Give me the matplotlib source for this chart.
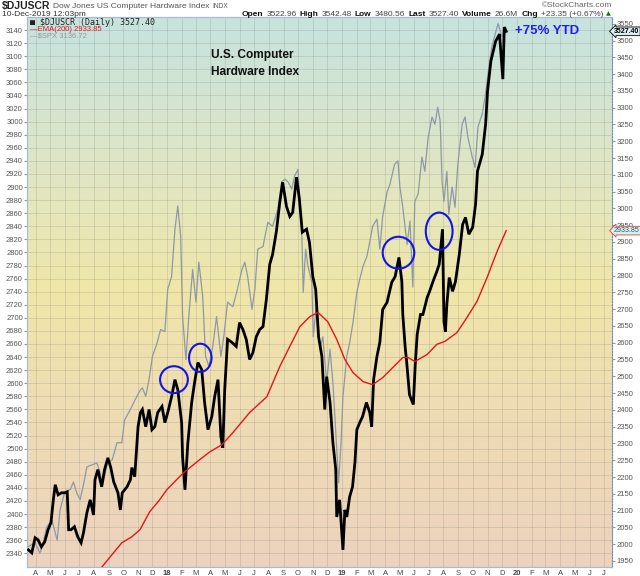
import matplotlib
matplotlib.use('Agg')
import matplotlib.pyplot as plt
import matplotlib.dates as mdates
from matplotlib.patches import Ellipse
from matplotlib.colors import LinearSegmentedColormap
from matplotlib.offsetbox import TextArea, HPacker, AnchoredOffsetbox
import numpy as np
import pandas as pd

plt.rcParams['font.family'] = ['Liberation Sans', 'DejaVu Sans']

# ---------------- data ----------------
djuscr_dates = [
    '2017-03-17', '2017-03-24', '2017-03-31', '2017-04-06', '2017-04-13', '2017-04-20', '2017-04-27',
    '2017-05-03', '2017-05-08', '2017-05-12', '2017-05-18', '2017-05-25', '2017-06-01', '2017-06-06',
    '2017-06-09', '2017-06-14', '2017-06-21', '2017-06-28', '2017-07-05', '2017-07-10', '2017-07-17',
    '2017-07-24', '2017-07-31', '2017-08-03', '2017-08-09', '2017-08-17', '2017-08-23', '2017-08-30',
    '2017-09-05', '2017-09-11', '2017-09-20', '2017-09-25', '2017-09-29', '2017-10-09', '2017-10-16',
    '2017-10-19', '2017-10-25', '2017-10-30', '2017-11-01', '2017-11-06', '2017-11-10', '2017-11-17',
    '2017-11-24', '2017-11-30', '2017-12-06', '2017-12-12', '2017-12-21', '2017-12-27', '2018-01-02',
    '2018-01-10', '2018-01-17', '2018-01-23', '2018-01-31', '2018-02-02', '2018-02-07', '2018-02-13',
    '2018-02-21', '2018-02-27', '2018-03-06', '2018-03-14', '2018-03-20', '2018-03-27', '2018-04-04',
    '2018-04-10', '2018-04-17', '2018-04-23', '2018-04-27', '2018-05-01', '2018-05-07', '2018-05-16',
    '2018-05-25', '2018-06-01', '2018-06-08', '2018-06-15', '2018-06-22', '2018-06-29', '2018-07-06',
    '2018-07-13', '2018-07-20', '2018-07-27', '2018-08-03', '2018-08-09', '2018-08-17', '2018-08-24',
    '2018-08-30', '2018-09-07', '2018-09-14', '2018-09-20', '2018-09-28', '2018-10-04', '2018-10-10',
    '2018-10-19', '2018-10-25', '2018-11-01', '2018-11-07', '2018-11-13', '2018-11-20', '2018-11-23',
    '2018-11-26', '2018-11-30', '2018-12-07', '2018-12-13', '2018-12-19', '2018-12-21', '2018-12-27',
    '2019-01-03', '2019-01-07', '2019-01-11', '2019-01-17', '2019-01-23', '2019-01-28', '2019-02-01',
    '2019-02-07', '2019-02-13', '2019-02-21', '2019-02-28', '2019-03-04', '2019-03-08', '2019-03-15',
    '2019-03-21', '2019-03-27', '2019-04-05', '2019-04-15', '2019-04-22', '2019-04-30', '2019-05-06',
    '2019-05-08', '2019-05-13', '2019-05-16', '2019-05-22', '2019-05-30', '2019-06-03', '2019-06-07',
    '2019-06-14', '2019-06-19', '2019-06-28', '2019-07-03', '2019-07-10', '2019-07-18', '2019-07-23',
    '2019-07-30', '2019-08-02', '2019-08-05', '2019-08-08', '2019-08-13', '2019-08-20', '2019-08-26',
    '2019-09-03', '2019-09-10', '2019-09-16', '2019-09-23', '2019-10-01', '2019-10-07', '2019-10-11',
    '2019-10-21', '2019-10-28', '2019-11-01', '2019-11-08', '2019-11-18', '2019-11-26', '2019-12-03',
    '2019-12-06', '2019-12-10']
djuscr_close = [
    1983, 1974, 2019, 2013, 1992, 2007, 2043,
    2064, 2132, 2177, 2147, 2153, 2153, 2156,
    2043, 2043, 2052, 2022, 2004, 2034, 2093,
    2132, 2087, 2192, 2222, 2171, 2222, 2257,
    2228, 2186, 2153, 2102, 2153, 2171, 2192,
    2228, 2201, 2311, 2350, 2392, 2401, 2350,
    2401, 2341, 2350, 2392, 2410, 2362, 2392,
    2439, 2490, 2460, 2362, 2260, 2162, 2302,
    2422, 2481, 2541, 2520, 2422, 2341, 2380,
    2439, 2490, 2320, 2287, 2460, 2610, 2601,
    2589, 2660, 2639, 2610, 2550, 2571, 2618,
    2639, 2648, 2729, 2833, 2863, 2932, 3018,
    3078, 3006, 2976, 2988, 3093, 3027, 2929,
    2938, 2899, 2797, 2759, 2618, 2559, 2481,
    2401, 2499, 2422, 2302, 2222, 2081, 2132,
    1983, 2102, 2081, 2141, 2171, 2243, 2341,
    2362, 2380, 2422, 2392, 2350, 2490, 2559,
    2601, 2699, 2720, 2780, 2797, 2854, 2782,
    2684, 2586, 2544, 2445, 2416, 2535, 2624,
    2684, 2684, 2735, 2753, 2782, 2812, 2833,
    2938, 2663, 2633, 2714, 2794, 2753, 2782,
    2863, 2952, 2973, 2923, 2944, 3012, 3111,
    3161, 3251, 3349, 3439, 3498, 3519, 3385,
    3540, 3527.40]

spx_dates = [
    '2017-03-16', '2017-03-31', '2017-04-10', '2017-04-17', '2017-04-24', '2017-05-05', '2017-05-16',
    '2017-05-22', '2017-06-01', '2017-06-12', '2017-06-19', '2017-06-26', '2017-07-03', '2017-07-10',
    '2017-07-17', '2017-07-27', '2017-08-07', '2017-08-14', '2017-08-18', '2017-08-29', '2017-09-08',
    '2017-09-18', '2017-09-28', '2017-10-04', '2017-10-16', '2017-10-26', '2017-11-06', '2017-11-10',
    '2017-11-17', '2017-11-24', '2017-12-01', '2017-12-11', '2017-12-18', '2017-12-27', '2018-01-02',
    '2018-01-10', '2018-01-17', '2018-01-23', '2018-01-29', '2018-02-02', '2018-02-09', '2018-02-15',
    '2018-02-23', '2018-03-02', '2018-03-08', '2018-03-16', '2018-03-22', '2018-03-29', '2018-04-06',
    '2018-04-14', '2018-04-23', '2018-04-29', '2018-05-07', '2018-05-18', '2018-05-26', '2018-06-06',
    '2018-06-12', '2018-06-18', '2018-06-27', '2018-07-03', '2018-07-09', '2018-07-20', '2018-07-30',
    '2018-08-09', '2018-08-20', '2018-08-28', '2018-09-04', '2018-09-10', '2018-09-18', '2018-09-24',
    '2018-10-01', '2018-10-09', '2018-10-12', '2018-10-17', '2018-10-22', '2018-10-30', '2018-11-02',
    '2018-11-09', '2018-11-16', '2018-11-22', '2018-11-30', '2018-12-07', '2018-12-13', '2018-12-21',
    '2018-12-25', '2018-12-30', '2019-01-03', '2019-01-11', '2019-01-17', '2019-01-24', '2019-02-01',
    '2019-02-07', '2019-02-14', '2019-02-22', '2019-02-28', '2019-03-06', '2019-03-15', '2019-03-21',
    '2019-03-27', '2019-04-05', '2019-04-11', '2019-04-21', '2019-04-28', '2019-05-02', '2019-05-08',
    '2019-05-17', '2019-05-23', '2019-05-29', '2019-06-02', '2019-06-09', '2019-06-17', '2019-06-23',
    '2019-06-30', '2019-07-08', '2019-07-14', '2019-07-20', '2019-07-25', '2019-07-29', '2019-08-02',
    '2019-08-08', '2019-08-12', '2019-08-19', '2019-08-25', '2019-08-31', '2019-09-09', '2019-09-15',
    '2019-09-21', '2019-09-30', '2019-10-06', '2019-10-12', '2019-10-21', '2019-10-27', '2019-11-02',
    '2019-11-10', '2019-11-17', '2019-11-23', '2019-12-01', '2019-12-10']
spx_close = [
    2350, 2356, 2340, 2356, 2380, 2391, 2360,
    2406, 2434, 2437, 2449, 2432, 2422, 2445,
    2472, 2475, 2478, 2463, 2442, 2478, 2483,
    2509, 2509, 2544, 2560, 2575, 2590, 2593,
    2580, 2606, 2641, 2662, 2682, 2679, 2744,
    2763, 2835, 2871, 2825, 2702, 2636, 2702,
    2774, 2724, 2785, 2733, 2641, 2626, 2656,
    2702, 2641, 2671, 2724, 2717, 2739, 2774,
    2785, 2763, 2713, 2744, 2805, 2809, 2846,
    2840, 2866, 2908, 2912, 2908, 2897, 2917,
    2927, 2831, 2739, 2805, 2779, 2754, 2671,
    2724, 2652, 2671, 2601, 2652, 2601, 2498,
    2448, 2509, 2580, 2641, 2662, 2693, 2739,
    2759, 2779, 2794, 2816, 2840, 2851, 2805,
    2855, 2892, 2904, 2935, 2940, 2900, 2869,
    2812, 2848, 2747, 2878, 2889, 2946, 2924,
    2976, 3007, 2996, 3022, 3001, 2909, 2878,
    2924, 2858, 2900, 2869, 2935, 2996, 3007,
    2976, 2946, 2930, 2992, 3012, 3038, 3073,
    3114, 3134, 3150, 3130, 3136.72]

ema_dates = [
    '2017-08-09', '2017-09-07', '2017-09-28', '2017-10-19', '2017-11-05', '2017-11-25', '2017-12-16',
    '2017-12-31', '2018-02-02', '2018-03-10', '2018-03-31', '2018-04-25', '2018-05-18', '2018-06-22',
    '2018-07-28', '2018-08-24', '2018-09-14', '2018-10-05', '2018-10-26', '2018-11-12', '2018-12-02',
    '2018-12-21', '2019-01-07', '2019-01-24', '2019-02-14', '2019-03-06', '2019-03-27', '2019-04-17',
    '2019-05-08', '2019-05-19', '2019-06-02', '2019-06-28', '2019-07-18', '2019-08-04', '2019-08-29',
    '2019-09-19', '2019-10-10', '2019-10-31', '2019-11-21', '2019-12-10']
ema_values = [
    1917, 1968, 2004, 2022, 2043, 2096, 2132,
    2162, 2210, 2252, 2275, 2296, 2332, 2392,
    2439, 2529, 2589, 2648, 2678, 2690, 2663,
    2610, 2550, 2511, 2484, 2475, 2496, 2526,
    2556, 2556, 2544, 2565, 2595, 2604, 2630,
    2675, 2723, 2794, 2872, 2933.85]

# highlighted spots (blue circles), on the DJUSCR scale
circle_dates = ['2018-01-15', '2018-03-11', '2019-04-29', '2019-07-23']
circle_values = [2490, 2555, 2868, 2932]
circle_width_days = [58, 47, 66, 56]
circle_height_pts = [80, 84, 95, 111]

month_letters = ['J', 'F', 'M', 'A', 'M', 'J', 'J', 'A', 'S', 'O', 'N', 'D']
left_ticks = list(range(2340, 3141, 20))
right_ticks = list(range(1950, 3551, 50))

# ---------------- figure ----------------
W, H = 640, 576
fig = plt.figure(figsize=(6.4, 5.76), dpi=100)
pos = [27 / W, 1 - 567 / H, 585 / W, 550 / H]

bg = fig.add_axes(pos)
cmap = LinearSegmentedColormap.from_list(
    'bg', [(0.0, '#ecd3be'), (0.28, '#eedcb4'), (0.5, '#f0e6a8'),
           (0.72, '#e0e6c4'), (1.0, '#c6e3df')])
grad = np.linspace(0, 1, 256).reshape(-1, 1)
bg.imshow(grad, aspect='auto', cmap=cmap, origin='lower', extent=(0, 1, 0, 1))
bg.set_axis_off()
bg.set_zorder(0)

ax = fig.add_axes(pos)
ax.set_zorder(1)
ax.patch.set_visible(False)
ax2 = ax.twinx()
ax2.set_zorder(2)
ax2.patch.set_visible(False)

spx_x = pd.to_datetime(spx_dates)
dj_x = pd.to_datetime(djuscr_dates)
ema_x = pd.to_datetime(ema_dates)

ax.plot(spx_x, spx_close, color='#8d99a5', lw=0.9, zorder=2)
ax2.plot(dj_x, djuscr_close, color='black', lw=2.0, zorder=3, solid_joinstyle='miter')
ax2.plot(ema_x, ema_values, color='#e3141c', lw=1.0, zorder=4)

for d, v, w, h in zip(circle_dates, circle_values, circle_width_days, circle_height_pts):
    ax2.add_patch(Ellipse((mdates.date2num(pd.Timestamp(d)), v), width=w, height=h,
                          fill=False, edgecolor='#1414e6', lw=1.5, zorder=6))

ax.set_xlim(pd.Timestamp('2017-03-14'), pd.Timestamp('2020-07-18'))
ax.set_ylim(2319, 3160)
ax2.set_ylim(1932, 3570)

# axes ticks
mticks = pd.date_range('2017-04-01', '2020-07-01', freq='MS')
ax.set_xticks(mticks)
ax.set_xticklabels([f"{d.year % 100:02d}" if d.month == 1 else month_letters[d.month - 1]
                    for d in mticks])
for lbl, d in zip(ax.get_xticklabels(), mticks):
    if d.month == 1:
        lbl.set_fontweight('bold')
        lbl.set_color('#222222')
ax.set_yticks(left_ticks)
ax2.set_yticks(right_ticks)

ax.tick_params(axis='x', labelsize=5.5, length=0, pad=2, labelcolor='#444444')
ax.tick_params(axis='y', labelsize=5.5, length=2, pad=1, labelcolor='#555555', color='#999999')
ax2.tick_params(axis='y', labelsize=5.5, length=2, pad=1, labelcolor='#555555', color='#999999')

ax.grid(True, color='#707070', alpha=0.22, lw=0.6)
ax.set_axisbelow(True)

for sp in ax.spines.values():
    sp.set_color('#a9bccd')
    sp.set_linewidth(0.8)
for sp in ax2.spines.values():
    sp.set_color('#a9bccd')
    sp.set_linewidth(0.8)
ax2.spines['right'].set_linestyle(':')
ax2.spines['right'].set_color('#6f8fb0')

# value tags on the right axis
ax2.annotate('3527.40', xy=(1, djuscr_close[-1]), xycoords=ax2.get_yaxis_transform(),
             xytext=(1.5, 0), textcoords='offset points', fontsize=5.0, fontweight='bold',
             va='center', ha='left', color='black', zorder=10,
             bbox=dict(boxstyle='larrow,pad=0.12', fc='#d9eeee', ec='black', lw=0.6),
             annotation_clip=False)
ax2.annotate('2933.85', xy=(1, ema_values[-1]), xycoords=ax2.get_yaxis_transform(),
             xytext=(1.5, 0), textcoords='offset points', fontsize=5.0,
             va='center', ha='left', color='#2b5f63', zorder=10,
             bbox=dict(boxstyle='larrow,pad=0.12', fc='#d9eeee', ec='#e04040', lw=0.6),
             annotation_clip=False)

# ---------------- text ----------------
def fx(px):
    return px / W

def fy(py):
    return 1 - py / H

# header line 1
hdr1 = HPacker(children=[
    TextArea('$DJUSCR', textprops=dict(size=7.5, weight='bold', color='#222222')),
    TextArea('Dow Jones US Computer Hardware Index', textprops=dict(size=6, color='#555555')),
    TextArea('INDX', textprops=dict(size=4.8, color='#555555')),
], pad=0, sep=2, align='baseline')
fig.add_artist(AnchoredOffsetbox(loc='upper left', child=hdr1, frameon=False, pad=0, borderpad=0,
                                 bbox_to_anchor=(fx(2), fy(0.5)), bbox_transform=fig.transFigure))
fig.text(fx(2), fy(14.5), '10-Dec-2019 12:03pm', fontsize=6, color='#333333', va='center')
fig.text(fx(612), fy(5.5), '©StockCharts.com', fontsize=6, color='#666666', va='center', ha='right')

parts = [('Open', True), ('3522.96', False), ('High', True), ('3542.48', False),
         ('Low', True), ('3480.56', False), ('Last', True), ('3527.40', False),
         ('Volume', True), ('26.6M', False), ('Chg', True), ('+23.35 (+0.67%)', False)]
children = []
for s, b in parts:
    children.append(TextArea(s, textprops=dict(size=6, weight='bold' if b else 'normal',
                                               color='#111111' if b else '#444444')))
children.append(TextArea('▲', textprops=dict(size=4.5, color='#1e6a1e', family='DejaVu Sans')))
hdr2 = HPacker(children=children, pad=0, sep=2.2, align='baseline')
fig.add_artist(AnchoredOffsetbox(loc='lower right', child=hdr2, frameon=False, pad=0, borderpad=0,
                                 bbox_to_anchor=(fx(611), fy(17.5)), bbox_transform=fig.transFigure))

# in-plot legend
fig.text(fx(30), fy(22.5), '■ $DJUSCR (Daily) 3527.40', fontsize=6.0, color='#222222',
         va='center', family='DejaVu Sans Mono', zorder=5)
fig.text(fx(30), fy(29.2), '—EMA(200) 2933.85', fontsize=5.5, color='#e3141c', va='center', zorder=5)
fig.text(fx(30), fy(35.6), '—$SPX 3136.72', fontsize=5.5, color='#8d99a5', va='center', zorder=5)

# annotations
fig.text(fx(211), fy(55), 'U.S. Computer', fontsize=8.6, weight='bold', color='#111111',
         va='center', zorder=5)
fig.text(fx(211), fy(72), 'Hardware Index', fontsize=8.6, weight='bold', color='#111111',
         va='center', zorder=5)
fig.text(fx(515), fy(31), '+75% YTD', fontsize=9.5, weight='bold', color='#1f1ff0',
         va='center', zorder=5)

fig.savefig('out.png', dpi=100)
